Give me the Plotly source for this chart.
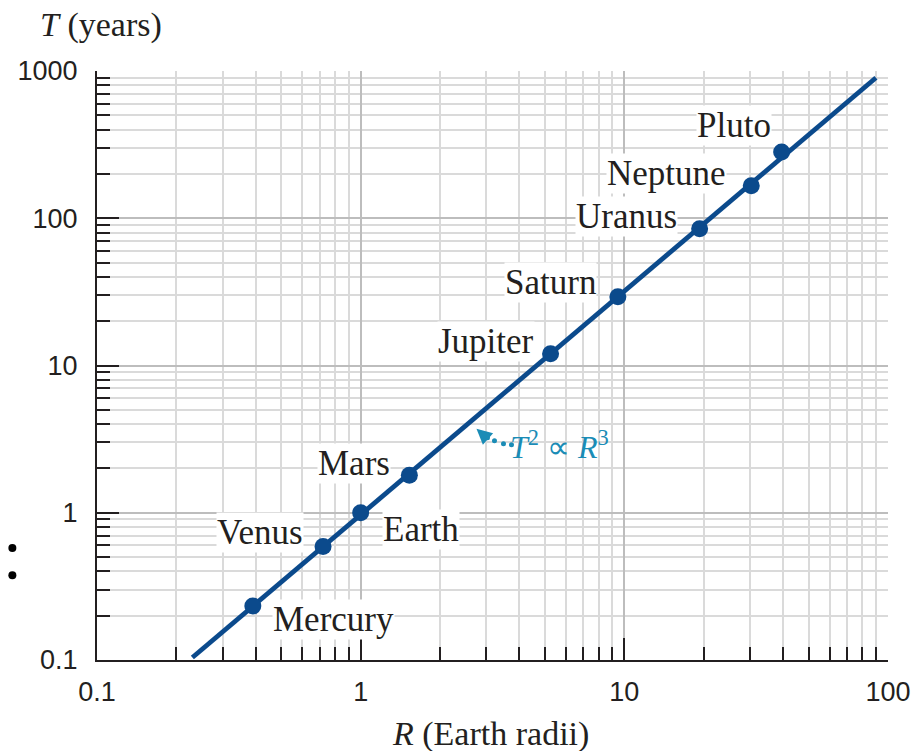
import numpy as np
import plotly.graph_objects as go

# ---- data ----
planets = ["Mercury", "Venus", "Earth", "Mars", "Jupiter", "Saturn", "Uranus", "Neptune", "Pluto"]
radius = [0.39, 0.72, 1.0, 1.53, 5.25, 9.45, 19.3, 30.3, 39.5]        # R
period = [0.233, 0.59, 1.0, 1.8, 12.0, 29.3, 85.0, 166.0, 282.0]       # T (years)
fit_R = [0.23, 90.0]
fit_T = [0.104, 900.0]
x_ticks = [0.1, 1, 10, 100]
x_tick_text = ["0.1", "1", "10", "100"]
y_ticks = [0.1, 1, 10, 100, 1000]
y_tick_text = ["0.1", "1", "10", "100", "1000"]

# label offsets (pixels) relative to each point
label_dx = [81, -63, 60, -55, -65, -67, -73, -85, -48]
label_dy = [-14, 14, -17, 12, 12, 14, 12, 12, 26]

BLUE = "#0b4a8c"
TEAL = "#1a8cb6"
INK = "#231f20"
SERIF = "Liberation Serif, Times New Roman, serif"
SANS = "Liberation Sans, Arial, sans-serif"

fig = go.Figure()
fig.add_trace(go.Scatter(x=fit_R, y=fit_T, mode="lines",
                         line=dict(color=BLUE, width=4.8), hoverinfo="skip", showlegend=False))
fig.add_trace(go.Scatter(x=radius, y=period, mode="markers", text=planets,
                         marker=dict(color=BLUE, size=17), showlegend=False))

for name, r, t, dx, dy in zip(planets, radius, period, label_dx, label_dy):
    fig.add_annotation(x=np.log10(r), y=np.log10(t), xref="x", yref="y", text=name,
                       showarrow=False, xshift=dx, yshift=dy,
                       font=dict(family=SERIF, size=35, color=INK),
                       bgcolor="white", borderpad=0)

# law label with dotted pointer
law_R, law_T = 3.7, 2.9
fig.add_annotation(x=np.log10(law_R), y=np.log10(law_T), xref="x", yref="y",
                   text="<i>T</i><sup>2</sup> ∝ <i>R</i><sup>3</sup>", showarrow=False,
                   xanchor="left", yanchor="middle", xshift=-2,
                   font=dict(family=SERIF, size=32, color=TEAL))
# pointer: pixel-scale offsets from the label anchor converted through axis scale
px_per_dec_x = 791 / 3.0
px_per_dec_y = 589 / 4.0
dot_px = [(-23, -7), (-16, -4), (-7, -1), (1, 0)]
dots_R = [law_R * 10 ** (dx / px_per_dec_x) for dx, dy in dot_px]
dots_T = [law_T * 10 ** (-dy / px_per_dec_y) for dx, dy in dot_px]
fig.add_trace(go.Scatter(x=dots_R, y=dots_T, mode="markers",
                         marker=dict(color=TEAL, size=5), hoverinfo="skip", showlegend=False))
tip_R = law_R * 10 ** (-34 / px_per_dec_x)
tip_T = law_T * 10 ** (16 / px_per_dec_y)
fig.add_annotation(x=np.log10(tip_R), y=np.log10(tip_T), xref="x", yref="y", text="",
                   showarrow=True, arrowhead=2, arrowsize=1.4, arrowwidth=2.2,
                   arrowcolor=TEAL, ax=9, ay=8)

# axis titles
fig.add_annotation(x=-0.075, y=1.078, xref="paper", yref="paper", xanchor="left", yanchor="middle",
                   text="<i>T</i> (years)", showarrow=False,
                   font=dict(family=SERIF, size=34, color=INK))
fig.add_annotation(x=0.498, y=-0.125, xref="paper", yref="paper", xanchor="center", yanchor="middle",
                   text="<i>R</i> (Earth radii)", showarrow=False,
                   font=dict(family=SERIF, size=34, color=INK))

# two stray bullets at the left edge
for yy in [0.19, 0.144]:
    fig.add_shape(type="circle", xref="paper", yref="paper", xsizemode="pixel", ysizemode="pixel",
                  xanchor=-0.107, yanchor=yy, x0=-4, x1=4, y0=-4, y1=4,
                  fillcolor="black", line=dict(width=0))

axis_common = dict(
    type="log", showline=True, linecolor=INK, linewidth=2.2,
    ticks="inside", ticklen=22, tickwidth=2, tickcolor=INK,
    showgrid=True, gridcolor="#bdbdbd", gridwidth=2,
    tickfont=dict(family=SANS, size=27, color=INK),
    zeroline=False, mirror=False, automargin=False,
    minor=dict(ticks="inside", ticklen=13, tickwidth=2, tickcolor=INK,
               showgrid=True, gridcolor="#dadada", gridwidth=1.5, dtick="D1"),
)
fig.update_xaxes(range=[-1, 2], tickvals=x_ticks, ticktext=x_tick_text,
                 ticklabelstandoff=6, **axis_common)
fig.update_yaxes(range=[-1, 3], tickvals=y_ticks, ticktext=y_tick_text,
                 ticklabelstandoff=12, **axis_common)

fig.update_layout(width=913, height=751, margin=dict(l=97, r=25, t=71, b=91, autoexpand=False),
                  plot_bgcolor="white", paper_bgcolor="white", showlegend=False)

fig.write_html("out.html", config={"displayModeBar": False})

# remove the default page margin so the figure fills the window exactly
with open("out.html", "r", encoding="utf-8") as f:
    html = f.read()
html = html.replace("<head>", "<head><style>html,body{margin:0;padding:0;overflow:hidden;}</style>", 1)
with open("out.html", "w", encoding="utf-8") as f:
    f.write(html)
